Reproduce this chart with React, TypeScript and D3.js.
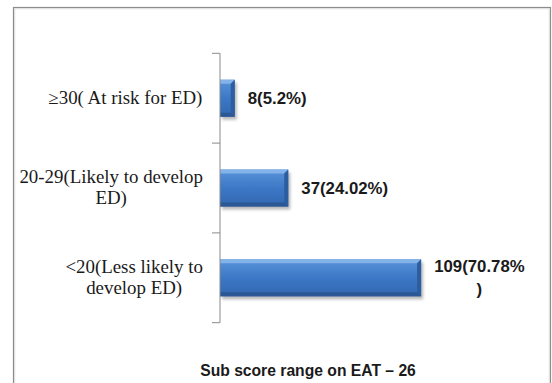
import React from "react";
import * as d3 from "d3";

const categories = [
  "≥30( At risk for ED)",
  "20-29(Likely to develop\nED)",
  "<20(Less likely to\ndevelop ED)",
];
const counts = [8, 37, 109];
const percents = ["5.2", "24.02", "70.78"];
const xTitle = "Sub score range on EAT – 26";

const W = 552;
const H = 383;

const SERIF = "'Liberation Serif', 'Times New Roman', serif";
const SANS = "'Liberation Sans', Arial, sans-serif";
const SERIF_SIZE = 18;
const SERIF_SX = 1.05;
const LBL_SIZE = 16;
const LBL_SX = 1.05;
const TITLE_SIZE = 16;
const TITLE_SX = 0.98;

let ctx: CanvasRenderingContext2D | null = null;
function textWidth(t: string, font: string) {
  if (!ctx) ctx = document.createElement("canvas").getContext("2d");
  if (!ctx) return t.length * 8;
  ctx.font = font;
  return ctx.measureText(t).width;
}

export default function App() {
  const axisX = 220;
  const y = d3.scaleBand<string>().domain(categories).range([53.3, 322.7]).padding(0);
  const x = d3.scaleLinear().domain([0, 120]).range([axisX, axisX + 221.4]);
  const barH = 37;
  const bev = 4;
  const labelRight = 203;
  const rightLimit = 527;

  const serifFont = `${SERIF_SIZE}px ${SERIF}`;
  const lblFont = `bold ${LBL_SIZE}px ${SANS}`;

  const ticks = [...categories.map((c) => y(c) as number), y.range()[1]];

  return (
    <svg
      width={W}
      height={H}
      style={{ position: "absolute", left: 0, top: 0, background: "#fff" }}
    >
      <defs>
        <linearGradient id="barGrad" x1="0" y1="0" x2="0" y2="1">
          <stop offset="0" stopColor="#5a93da" />
          <stop offset="0.5" stopColor="#3c78c6" />
          <stop offset="1" stopColor="#3367b0" />
        </linearGradient>
        <filter id="shadow" x="-20%" y="-50%" width="140%" height="200%">
          <feGaussianBlur stdDeviation="1.5" />
        </filter>
      </defs>
      <rect x={0} y={0} width={W} height={H} fill="#fff" />
      {/* frame */}
      <rect x={13.5} y={7.5} width={537} height={420} fill="none" stroke="#8c8c8c" strokeWidth={1.2} />
      <rect x={14.8} y={8.8} width={534.4} height={420} fill="none" stroke="#d6d6d6" strokeWidth={0.8} />

      {/* bars */}
      {categories.map((c, i) => {
        const cy = (y(c) as number) + y.bandwidth() / 2;
        const x0 = x(0);
        const x1 = x(counts[i]);
        const y0 = cy - barH / 2;
        const y1 = cy + barH / 2;
        const b = Math.min(bev, (x1 - x0) / 3);
        return (
          <g key={c}>
            <rect x={x0 + 2} y={y0 + 3} width={x1 - x0} height={barH} fill="#000" opacity={0.28} filter="url(#shadow)" />
            <rect x={x0} y={y0} width={x1 - x0} height={barH} fill="url(#barGrad)" />
            <polygon points={`${x0},${y0} ${x1},${y0} ${x1 - b},${y0 + b} ${x0},${y0 + b}`} fill="#84b3ea" />
            <polygon points={`${x1},${y0} ${x1},${y1} ${x1 - b},${y1 - b} ${x1 - b},${y0 + b}`} fill="#2c5d9f" />
            <polygon points={`${x0},${y1} ${x1},${y1} ${x1 - b},${y1 - b} ${x0},${y1 - b}`} fill="#2b5794" />
          </g>
        );
      })}

      {/* axis */}
      <line x1={axisX} x2={axisX} y1={ticks[0]} y2={ticks[ticks.length - 1]} stroke="#8a8a8a" strokeWidth={1} />
      {ticks.map((t, i) => (
        <line key={i} x1={axisX - 8} x2={axisX} y1={t} y2={t} stroke="#8a8a8a" strokeWidth={1} />
      ))}

      {/* category labels */}
      {categories.map((c) => {
        const lines = c.split("\n");
        const widths = lines.map((l) => textWidth(l, serifFont) * SERIF_SX);
        const blockW = Math.max(...widths);
        const cx = labelRight - blockW / 2;
        const cy = (y(c) as number) + y.bandwidth() / 2;
        const lh = 21;
        const top = cy - ((lines.length - 1) * lh) / 2;
        return (
          <g key={c}>
            {lines.map((l, j) => (
              <text
                key={j}
                transform={`translate(${cx},${top + j * lh + 0.33 * SERIF_SIZE}) scale(${SERIF_SX},1)`}
                textAnchor="middle"
                fontFamily={SERIF}
                fontSize={SERIF_SIZE}
                fill="#1a1a1a"
              >
                {l}
              </text>
            ))}
          </g>
        );
      })}

      {/* data labels */}
      {categories.map((c, i) => {
        const label = `${counts[i]}(${percents[i]}%)`;
        const start = x(counts[i]) + 13;
        const avail = rightLimit - start;
        let lines = [label];
        if (textWidth(label, lblFont) * LBL_SX > avail) {
          let k = label.length - 1;
          while (k > 1 && textWidth(label.slice(0, k), lblFont) * LBL_SX > avail) k--;
          lines = [label.slice(0, k), label.slice(k)];
        }
        const widths = lines.map((l) => textWidth(l, lblFont) * LBL_SX);
        const blockW = Math.max(...widths);
        const cx = start + blockW / 2;
        const cy = (y(c) as number) + y.bandwidth() / 2;
        const lh = 23.3;
        const top = cy - ((lines.length - 1) * lh) / 2;
        return (
          <g key={c}>
            {lines.map((l, j) => (
              <text
                key={j}
                transform={`translate(${cx},${top + j * lh + 0.36 * LBL_SIZE}) scale(${LBL_SX},1)`}
                textAnchor="middle"
                fontFamily={SANS}
                fontWeight="bold"
                fontSize={LBL_SIZE}
                fill="#1a1a1a"
              >
                {l}
              </text>
            ))}
          </g>
        );
      })}

      {/* axis title */}
      <text
        transform={`translate(308,375.5) scale(${TITLE_SX},1)`}
        textAnchor="middle"
        fontFamily={SANS}
        fontWeight="bold"
        fontSize={TITLE_SIZE}
        fill="#1a1a1a"
      >
        {xTitle}
      </text>
    </svg>
  );
}
